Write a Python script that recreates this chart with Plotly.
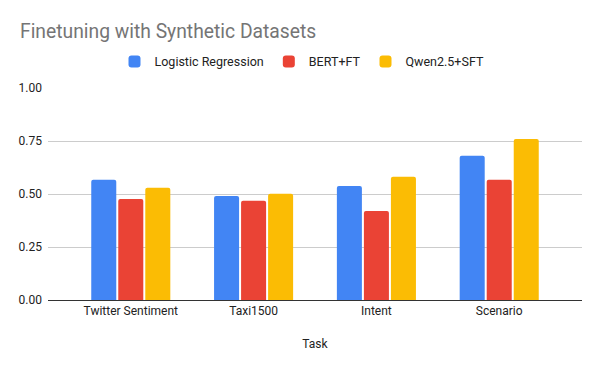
import plotly.graph_objects as go

tasks = ["Twitter Sentiment", "Taxi1500", "Intent", "Scenario"]
logreg = [0.567, 0.491, 0.538, 0.680]
bert_ft = [0.477, 0.468, 0.420, 0.567]
qwen_sft = [0.529, 0.501, 0.581, 0.760]

series = [
    ("Logistic Regression", logreg, "#4285F4"),
    ("BERT+FT", bert_ft, "#EA4335"),
    ("Qwen2.5+SFT", qwen_sft, "#FBBC04"),
]

fig = go.Figure()
for name, vals, color in series:
    fig.add_trace(go.Bar(
        x=tasks, y=vals, name=name,
        marker=dict(color=color, line=dict(width=0), cornerradius=2),
    ))

# the page body adds an 8px offset, so margins are shifted to compensate
fig.update_layout(
    width=600, height=371,
    paper_bgcolor="white", plot_bgcolor="white",
    font=dict(family="Roboto, Arial, sans-serif", size=12, color="#222222"),
    title=dict(text="Finetuning with Synthetic Datasets", x=0.02, xanchor="left",
               xref="container", yref="container", y=0.938, yanchor="middle",
               font=dict(size=19.3, color="#757575")),
    legend=dict(orientation="h", x=0.49, xanchor="center", xref="container",
                y=0.855, yanchor="middle", yref="container",
                font=dict(size=12.5, color="#222222"),
                traceorder="normal"),
    margin=dict(l=40, r=26, t=80, b=79, autoexpand=False),
    barmode="group", bargap=0.34, bargroupgap=0.074,
    xaxis=dict(title=dict(text="Task", font=dict(size=12, color="#222222"), standoff=22),
               range=[-0.674, 3.674],
               showline=True, linecolor="#333333", linewidth=1, ticks="",
               tickfont=dict(size=12)),
    yaxis=dict(range=[0, 1.0], tickvals=[0, 0.25, 0.5, 0.75, 1.0], tickformat=".2f",
               gridcolor="#cccccc", gridwidth=1, zeroline=False, ticks="",
               tickfont=dict(size=12), ticklabelstandoff=5),
)

fig.write_html("out.html")
